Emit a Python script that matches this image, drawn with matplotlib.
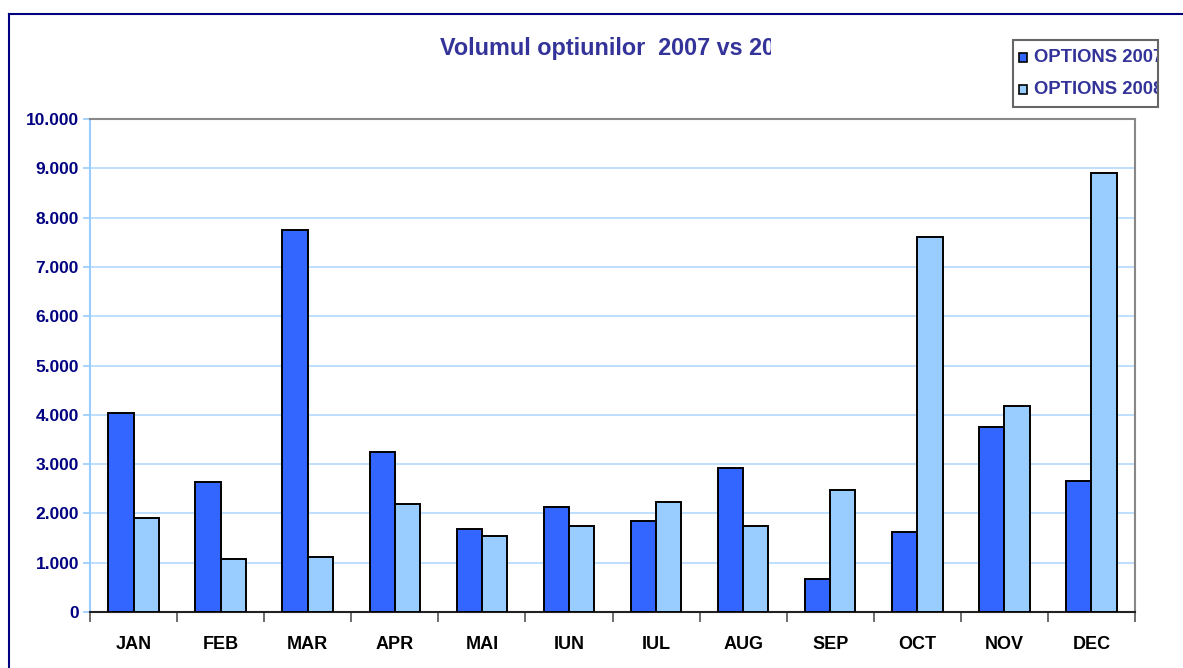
import matplotlib
matplotlib.use("Agg")
import matplotlib.pyplot as plt
import numpy as np
from matplotlib.patches import Rectangle
from matplotlib.lines import Line2D
from matplotlib.ticker import FuncFormatter, MultipleLocator

plt.rcParams['font.family'] = ['Liberation Sans', 'DejaVu Sans']

# Data
months = ['JAN', 'FEB', 'MAR', 'APR', 'MAI', 'IUN', 'IUL', 'AUG', 'SEP', 'OCT', 'NOV', 'DEC']
options_2007 = [4040, 2630, 7750, 3250, 1690, 2130, 1840, 2930, 670, 1620, 3750, 2650]
options_2008 = [1900, 1080, 1120, 2190, 1550, 1750, 2230, 1750, 2480, 7600, 4170, 8900]
series_labels = ['OPTIONS 2007', 'OPTIONS 2008']
title_text = 'Volumul optiunilor  2007 vs 2008'

c2007 = '#3366ff'
c2008 = '#99ccff'
navy = '#000080'
purple = '#333399'

W, H = 1183, 668
fig = plt.figure(figsize=(W / 100, H / 100), dpi=100)
ax = fig.add_axes([90 / W, 1 - 612 / H, (1135 - 90) / W, (612 - 119) / H])

x = np.arange(len(months))
bw = 0.29
ax.bar(x - bw / 2, options_2007, bw, color=c2007, edgecolor='black', linewidth=1.4, zorder=3)
ax.bar(x + bw / 2, options_2008, bw, color=c2008, edgecolor='black', linewidth=1.4, zorder=3)

ax.set_xlim(-0.5, len(months) - 0.5)
ax.set_ylim(0, 10000)
ax.yaxis.set_major_locator(MultipleLocator(1000))
ax.yaxis.set_major_formatter(FuncFormatter(lambda v, p: f"{int(v):,}".replace(',', '.')))
ax.grid(axis='y', color='#b3d9ff', linewidth=1.2, zorder=0)

# category labels centred, ticks at boundaries
ax.set_xticks(x)
ax.set_xticklabels(months)
ax.set_xticks(np.arange(-0.5, len(months)), minor=True)
ax.tick_params(axis='x', which='major', length=0, pad=17)
ax.tick_params(axis='x', which='minor', length=7, color='#555555', width=1.2)
ax.tick_params(axis='y', length=5, color='#99ccff', width=1.2, pad=3)
for lab in ax.get_xticklabels():
    lab.set_fontsize(13)
    lab.set_fontweight('bold')
    lab.set_color('black')
for lab in ax.get_yticklabels():
    lab.set_fontsize(12.5)
    lab.set_fontweight('bold')
    lab.set_color(navy)

ax.spines['left'].set_color('#99ccff')
ax.spines['left'].set_linewidth(1.5)
ax.spines['top'].set_color('#888888')
ax.spines['top'].set_linewidth(1.5)
ax.spines['right'].set_color('#888888')
ax.spines['right'].set_linewidth(1.5)
ax.spines['bottom'].set_color('#222222')
ax.spines['bottom'].set_linewidth(1.5)

# outer chart frame (top and left edges visible)
fig.add_artist(Line2D([9 / W, 1], [1 - 14 / H, 1 - 14 / H], color=navy, lw=1.5, zorder=20))
fig.add_artist(Line2D([9 / W, 9 / W], [0, 1 - 14 / H], color=navy, lw=1.5, zorder=20))

# title, cut off on the right as in the original
fig.text(440 / W, 1 - 49 / H, title_text, ha='left', va='center',
         fontsize=16.8, fontweight='bold', color=purple, zorder=3)
fig.add_artist(Rectangle((771 / W, 1 - 70 / H), 230 / W, 40 / H, transform=fig.transFigure,
                         facecolor='white', edgecolor='none', zorder=10))

# legend box, text cut off at its right border
lx0, lx1, ly0, ly1 = 1013, 1158, 40, 107
for i, (lab, col) in enumerate(zip(series_labels, [c2007, c2008])):
    yc = 57 + i * 32
    fig.add_artist(Rectangle((1019 / W, 1 - (yc + 4.5) / H), 8 / W, 9 / H,
                             transform=fig.transFigure, facecolor=col, edgecolor='black',
                             lw=1.2, zorder=12))
    fig.text(1034 / W, 1 - yc / H, lab, ha='left', va='center',
             fontsize=13.3, fontweight='bold', color=purple, zorder=3)
fig.add_artist(Rectangle((lx1 / W, 1 - 115 / H), (W - lx1) / W, 95 / H, transform=fig.transFigure,
                         facecolor='white', edgecolor='none', zorder=10))
fig.add_artist(Rectangle((lx0 / W, 1 - ly1 / H), (lx1 - lx0) / W, (ly1 - ly0) / H,
                         transform=fig.transFigure, fill=False, edgecolor='#666666',
                         lw=1.5, zorder=12))

fig.savefig('out.png', dpi=100)
